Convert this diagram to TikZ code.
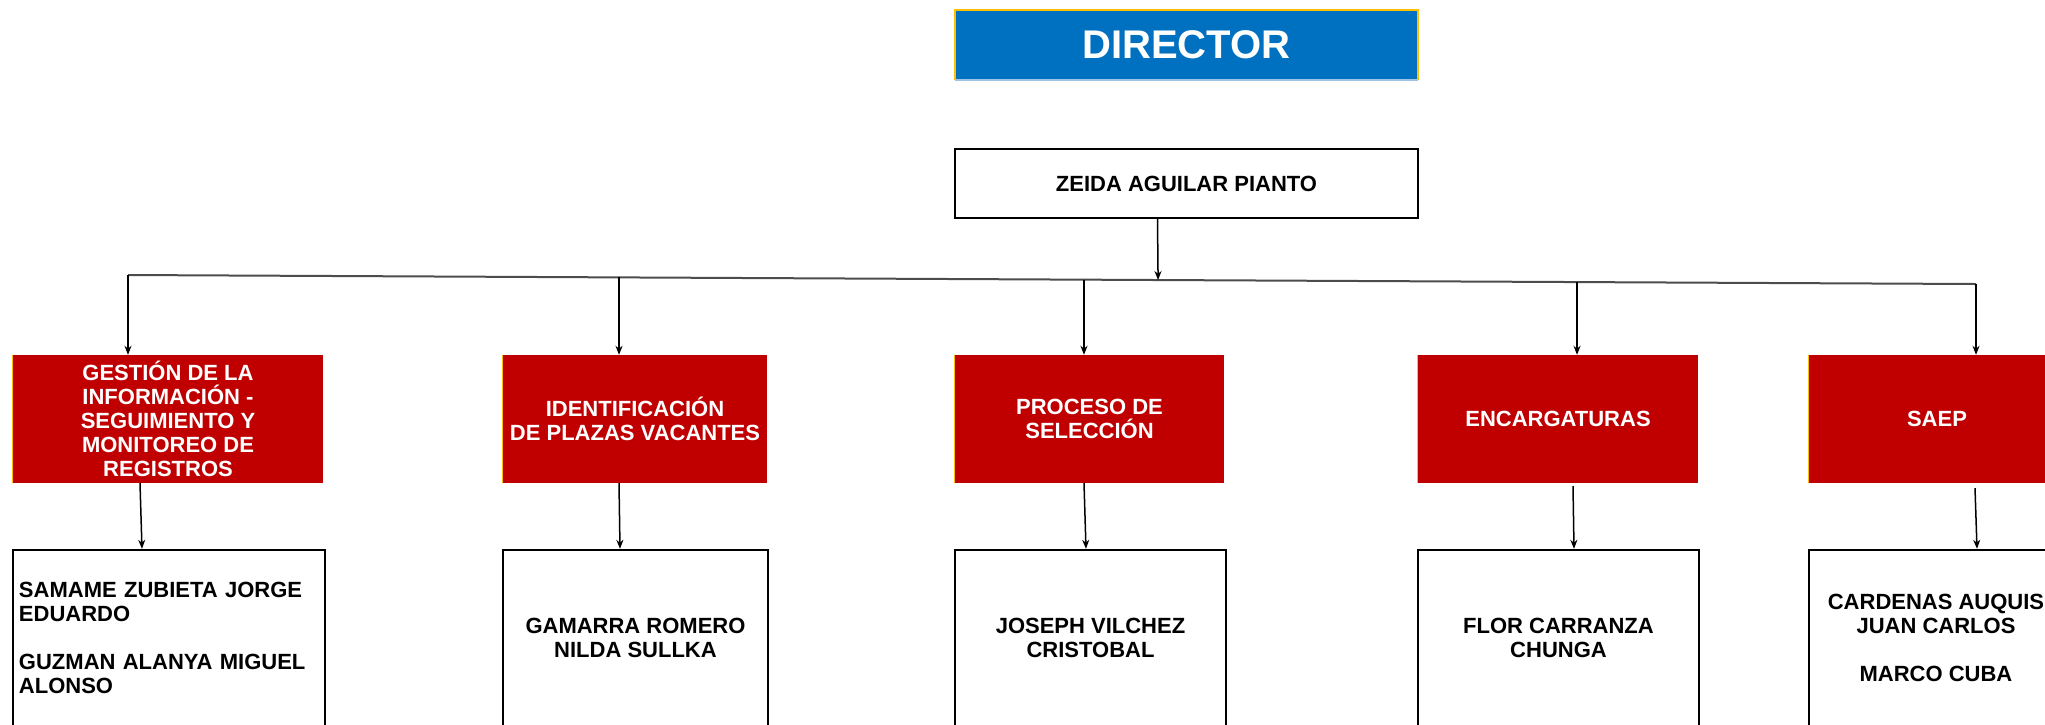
\documentclass[tikz,border=0pt]{standalone}
\usepackage{fontspec}
\setmainfont{Liberation Sans}
\usetikzlibrary{arrows.meta,calc}
\definecolor{dirblue}{HTML}{0070C0}
\definecolor{boxred}{HTML}{C00000}
\definecolor{edgegold}{HTML}{FFC000}
\definecolor{edgeblue}{HTML}{9DC3E6}
\begin{document}
\begin{tikzpicture}[x=1pt,y=-1pt,
  lbl/.style={font=\fontsize{22}{24}\selectfont\bfseries},
  redbox/.style={lbl, fill=boxred, text=white, align=center, minimum height=128pt, inner sep=0pt},
  namebox/.style={lbl, draw=black, line width=2.4pt, fill=white, align=center, minimum height=176pt, inner sep=0pt},
  conn/.style={line width=1.5pt, -{Stealth[length=9pt,width=7pt]}},
  bar/.style={line width=2pt, black!70}]
\useasboundingbox (0,0) rectangle (2045,724);
\clip (0,0) rectangle (2045,724);

% Director
\node[fill=dirblue, text=white, font=\fontsize{40}{44}\selectfont\bfseries,
      minimum width=463pt, minimum height=70pt, inner sep=0pt] (dir) at (1186.5,45) {DIRECTOR};
\draw[edgegold, line width=1.5pt] (dir.south west) -- (dir.north west) -- (dir.north east) -- (dir.south east);
\draw[edgeblue, line width=1.5pt] (dir.south west) -- (dir.south east);

\node[lbl, draw=black, line width=2.4pt, fill=white, minimum width=463pt, minimum height=69pt, inner sep=0pt]
  (zeida) at (1186.5,183.5) {ZEIDA AGUILAR PIANTO};

% Areas
\node[redbox, minimum width=310pt] (r1) at (168,419) {GESTIÓN DE LA\\INFORMACIÓN -\\SEGUIMIENTO Y\\MONITOREO DE\\REGISTROS};
\node[redbox, minimum width=264pt] (r2) at (635,419) {IDENTIFICACIÓN\\DE PLAZAS VACANTES};
\node[redbox, minimum width=269pt] (r3) at (1089.5,419) {PROCESO DE\\SELECCIÓN};
\node[redbox, minimum width=280pt] (r4) at (1558,419) {ENCARGATURAS};
\node[redbox, minimum width=256pt] (r5) at (1937,419) {SAEP};
\foreach \n in {r1,r2,r3,r4,r5} \draw[edgegold, line width=1.2pt] (\n.south west) -- (\n.north west);

% Names
\node[namebox, minimum width=312pt, align=left, text width=300pt, inner xsep=6pt] (w1) at (169,638)
  {SAMAME ZUBIETA JORGE\\EDUARDO\\[24pt]GUZMAN ALANYA MIGUEL\\ALONSO};
\node[namebox, minimum width=265pt] (w2) at (635.5,638) {GAMARRA ROMERO\\NILDA SULLKA};
\node[namebox, minimum width=271pt] (w3) at (1090.5,638) {JOSEPH VILCHEZ\\CRISTOBAL};
\node[namebox, minimum width=281pt] (w4) at (1558.5,638) {FLOR CARRANZA\\CHUNGA};
\node[namebox, minimum width=254pt] (w5) at (1936,638) {CARDENAS AUQUIS\\JUAN CARLOS\\[24pt]MARCO CUBA};

% Bar
\coordinate (barL) at (128,275);
\coordinate (barR) at (1976,284);
\coordinate (b2) at ($(barL)!0.2657!(barR)$);
\coordinate (b3) at ($(barL)!0.5173!(barR)$);
\coordinate (b4) at ($(barL)!0.7841!(barR)$);
\coordinate (bz) at ($(barL)!0.5574!(barR)$);
\draw[bar] (barL) -- (barR);
\draw[conn] ([xshift=-29pt]zeida.south) -- (bz);

\draw[conn] (barL) -- (barL |- r1.north);
\draw[conn] (b2) -- (b2 |- r2.north);
\draw[conn] (b3) -- (b3 |- r3.north);
\draw[conn] (b4) -- (b4 |- r4.north);
\draw[conn] (barR) -- (barR |- r5.north);

% Area to names
\draw[conn] ([xshift=-28pt]r1.south) -- ([xshift=-27pt]w1.north);
\draw[conn] ([xshift=-16pt]r2.south) -- ([xshift=-15.5pt]w2.north);
\draw[conn] ([xshift=-5.5pt]r3.south) -- ([xshift=-4.5pt]w3.north);
\draw[conn] ([xshift=15pt,yshift=-3pt]r4.south) -- ([xshift=15.5pt]w4.north);
\draw[conn] ([xshift=38pt,yshift=-5pt]r5.south) -- ([xshift=41pt]w5.north);
\end{tikzpicture}
\end{document}
